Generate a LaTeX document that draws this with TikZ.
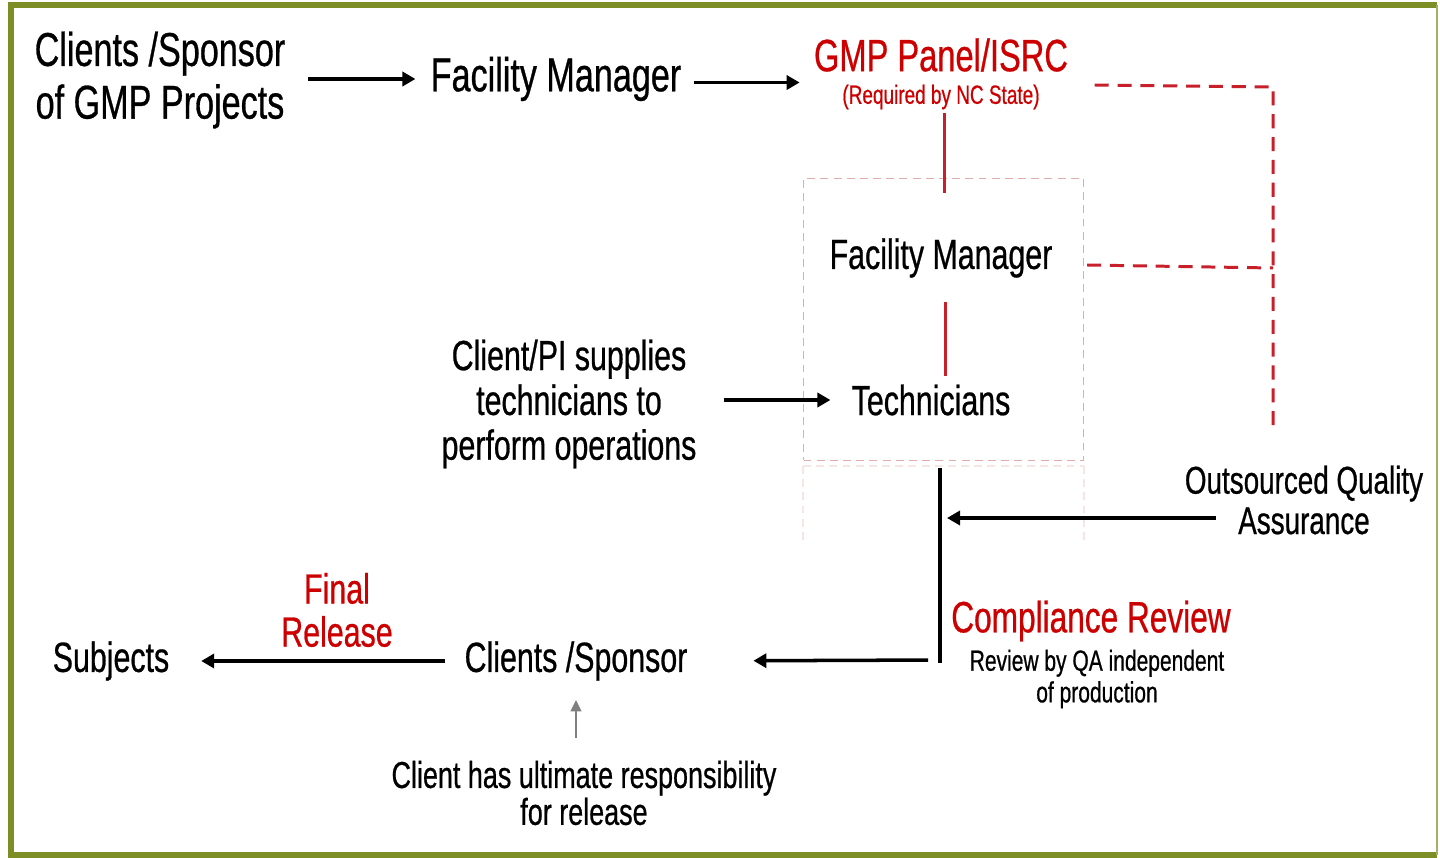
\documentclass[tikz,border=0pt]{standalone}
\usepackage{fontspec}
\setmainfont{Liberation Sans}[FakeStretch=0.72, FakeBold=0.6]
\usetikzlibrary{arrows.meta}

\definecolor{frameolive}{RGB}{125,142,38}
\definecolor{panelred}{RGB}{204,0,0}
\definecolor{linkred}{RGB}{200,32,42}
\definecolor{boxpink}{RGB}{224,172,172}

\begin{document}
\begin{tikzpicture}[
  x=0.02cm, y=-0.02cm,
  txt/.style={inner sep=0pt, align=center},
  huge/.style={txt, font=\fontsize{27}{30}\selectfont},
  big/.style={txt, font=\fontsize{24}{25}\selectfont},
  small/.style={txt, font=\fontsize{16.6}{18}\selectfont},
  arr/.style={line width=2pt, -{Triangle[length=7.4pt,width=8pt]}},
  redlink/.style={linkred, line width=1.7pt},
  reddash/.style={linkred, line width=1.7pt, dash pattern=on 8pt off 5pt},
  unitbox/.style={draw=boxpink, line width=0.8pt, dash pattern=on 4.5pt off 3pt},
  ]
  \useasboundingbox (0,0) rectangle (1440,858);
  % frame
  \draw[frameolive, line width=3pt] (1437,5) -- (11,5) -- (11,855) -- (1437,855);
  \draw[frameolive!70, line width=1.2pt] (1437,5) -- (1437,855);

  %Nodes
  \node[huge] (sponsorTop) at (160,80) {Clients /Sponsor\\of GMP Projects};
  \node[huge] (fmTop) at (556,79) {Facility Manager};
  \node[txt, text=panelred, font=\fontsize{25.8}{28}\selectfont] (gmp) at (941,55) {GMP Panel/ISRC};
  \node[txt, text=panelred, font=\fontsize{15}{16}\selectfont] (gmpnote) at (941,97) {(Required by NC State)};

  \node[unitbox, minimum width=159.3pt, minimum height=160.5pt] (unit) at (943.5,319.5) {};
  \node[big] (fmBox) at (941,258) {Facility Manager};
  \node[big] (tech) at (931,400) {Technicians};
  \node[big, font=\fontsize{24}{25.5}\selectfont] (pisupply) at (569,404) {Client/PI supplies\\technicians to\\perform operations};

  \node[txt, font=\fontsize{22}{23}\selectfont] (oqa) at (1304,500) {Outsourced Quality\\Assurance};
  \node[txt, text=panelred, font=\fontsize{25}{28}\selectfont] (compl) at (1091,621) {Compliance Review};
  \node[small] (complnote) at (1097,679) {Review by QA independent\\of production};

  \node[big] (sponsorBot) at (576,661) {Clients /Sponsor};
  \node[big] (subjects) at (111,661) {Subjects};
  \node[big, text=panelred, font=\fontsize{24}{24.5}\selectfont] (release) at (337,610) {Final\\Release};
  \node[txt, font=\fontsize{21.3}{21}\selectfont] (resp) at (584,793) {Client has ultimate responsibility\\for release};

  \coordinate (qacorner) at (1273,87);
  \coordinate (qajoin) at (940,660);
  \coordinate (qatip) at (947,518);

  % faint lower part of the unit box
  \draw[unitbox, opacity=0.3] (803,466) -- (1084,466)
    (803,466) -- (803,545) (1084,466) -- (1084,545);

  %Lines
  \draw[arr, shorten <=13pt, shorten >=8.5pt] (sponsorTop.east |- fmTop) -- (fmTop.west);
  \draw[arr, shorten <=6.8pt, shorten >=8pt] ([yshift=-2pt]fmTop.east) -- ([yshift=-2pt]fmTop.east -| gmp.west);
  \draw[redlink, shorten <=1.7pt, shorten >=25.5pt] (gmpnote.south -| 944,0) -- (fmBox.north -| 944,0);
  \draw[redlink, shorten <=13.6pt, shorten >=4.5pt] (fmBox.south -| 945,0) -- (tech.north -| 945,0);
  \draw[arr, shorten <=15.3pt, shorten >=11.9pt] (pisupply.east |- tech) -- (tech.west);

  \draw[reddash] ([xshift=15pt]gmp.east |- 0,85) -- (qacorner) -- ([yshift=21.5pt]qacorner |- oqa.north);
  \draw[reddash] ([xshift=1.7pt]unit.east |- 0,265) -- (qacorner |- 0,268);

  \draw[line width=2pt] (qajoin |- 0,468) -- ([yshift=-1.7pt]qajoin);
  \draw[arr] ([xshift=18pt]oqa.west |- qatip) -- (qatip);
  \draw[arr, shorten <=6.8pt, shorten >=37.4pt] (qajoin) -- (sponsorBot.east);
  \draw[arr, shorten <=10.8pt, shorten >=18pt] (sponsorBot.west) -- (subjects.east);
  \draw[gray, line width=1.3pt, -{Triangle[length=6.5pt,width=6pt]}, shorten <=13pt, shorten >=10.8pt]
    (resp.north -| sponsorBot) -- (sponsorBot.south);
\end{tikzpicture}
\end{document}
